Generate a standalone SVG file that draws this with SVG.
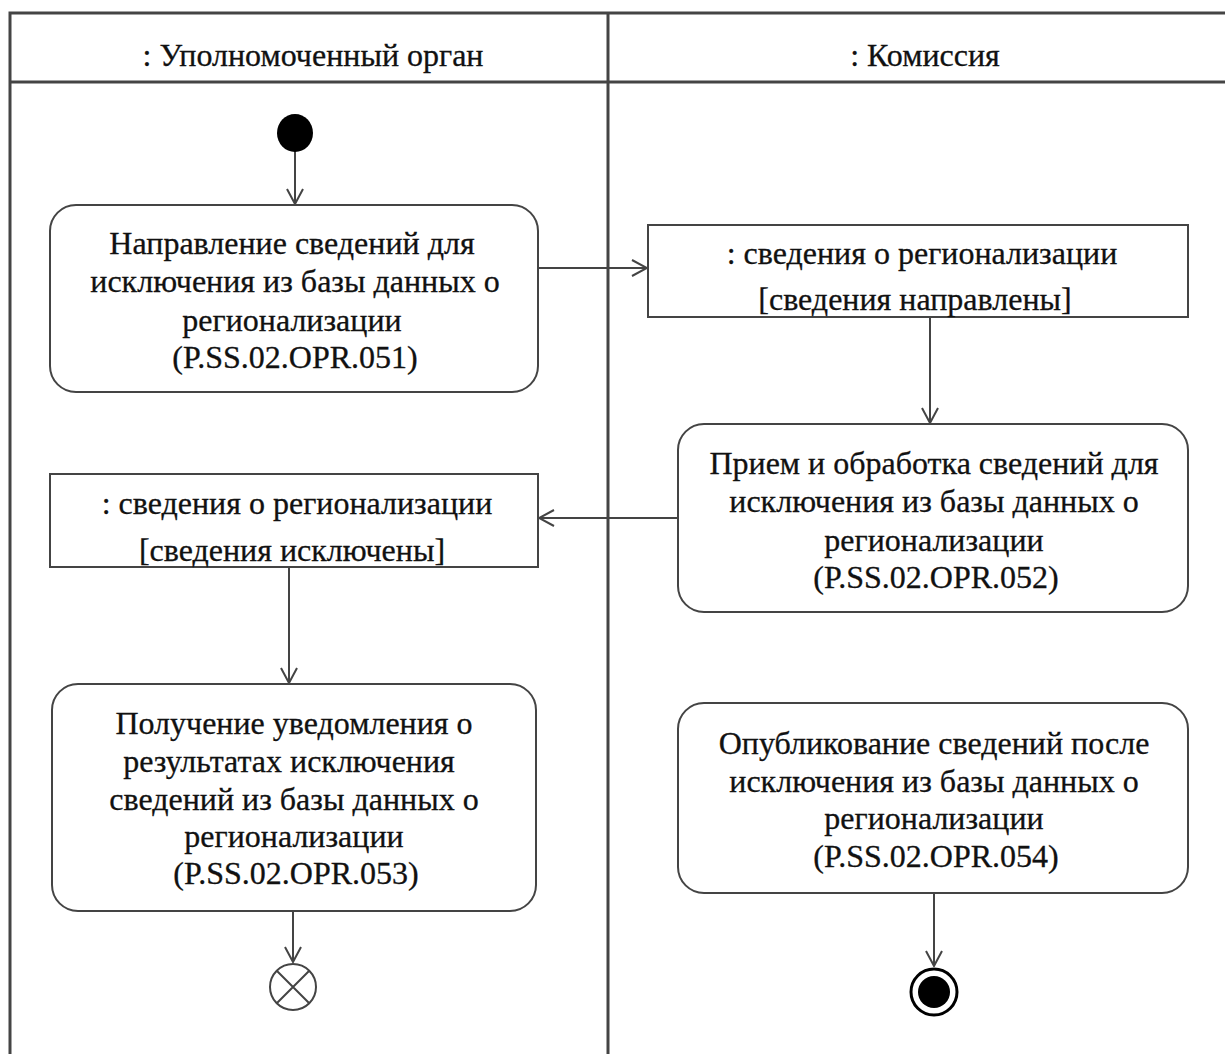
<svg xmlns="http://www.w3.org/2000/svg" width="1225" height="1054" viewBox="0 0 1225 1054">
<style>
text{font-family:"Liberation Serif","Times New Roman",serif;font-size:32px;fill:#111;stroke:#111;stroke-width:0.3;text-anchor:middle;dominant-baseline:central}
.frame{fill:none;stroke:#444;stroke-width:3}
.box{fill:#fff;stroke:#444;stroke-width:2}
.edge{fill:none;stroke:#444;stroke-width:2;marker-end:url(#arr)}
</style>
<defs>
<marker id="arr" viewBox="0 0 20 20" refX="19" refY="10" markerWidth="20" markerHeight="20" markerUnits="userSpaceOnUse" orient="auto">
<path d="M4,2 L19,10 L4,18" fill="none" stroke="#444" stroke-width="2"/>
</marker>
</defs>
<g id="frame">
<path class="frame" d="M10,1054 V13 H1225 M10,82 H1225 M608,13 V1054"/>
<text x="313" y="55">: Уполномоченный орган</text>
<text x="925" y="55">: Комиссия</text>
</g>
<g id="connectors">
<path class="edge" d="M295,151 V204"/>
<path class="edge" d="M538,268 H647"/>
<path class="edge" d="M930,317 V423"/>
<path class="edge" d="M678,518 H539"/>
<path class="edge" d="M289,567 V683"/>
<path class="edge" d="M293,911 V962"/>
<path class="edge" d="M934,893 V966"/>
</g>
<g id="start"><ellipse cx="295" cy="133" rx="18" ry="19" fill="#000"/></g>
<g id="a051">
<rect class="box" x="50" y="205" width="488" height="187" rx="26"/>
<text x="292" y="243">Направление сведений для</text>
<text x="295" y="281">исключения из базы данных о</text>
<text x="292" y="320">регионализации</text>
<text x="295" y="357">(P.SS.02.OPR.051)</text>
</g>
<g id="obj1">
<rect class="box" x="648" y="225" width="540" height="92"/>
<text x="922" y="253">: сведения о регионализации</text>
<text x="915" y="299">[сведения направлены]</text>
</g>
<g id="a052">
<rect class="box" x="678" y="424" width="510" height="188" rx="26"/>
<text x="934" y="463">Прием и обработка сведений для</text>
<text x="934" y="501">исключения из базы данных о</text>
<text x="934" y="540">регионализации</text>
<text x="936" y="577">(P.SS.02.OPR.052)</text>
</g>
<g id="obj2">
<rect class="box" x="50" y="474" width="488" height="93"/>
<text x="297" y="503">: сведения о регионализации</text>
<text x="292" y="550">[сведения исключены]</text>
</g>
<g id="a053">
<rect class="box" x="52" y="684" width="484" height="227" rx="26"/>
<text x="294" y="723">Получение уведомления о</text>
<text x="289" y="761">результатах исключения</text>
<text x="294" y="799">сведений из базы данных о</text>
<text x="294" y="836">регионализации</text>
<text x="296" y="873">(P.SS.02.OPR.053)</text>
</g>
<g id="a054">
<rect class="box" x="678" y="703" width="510" height="190" rx="26"/>
<text x="934" y="743">Опубликование сведений после</text>
<text x="934" y="781">исключения из базы данных о</text>
<text x="934" y="818">регионализации</text>
<text x="936" y="856">(P.SS.02.OPR.054)</text>
</g>
<g id="flowfinal">
<circle cx="293" cy="987" r="23" fill="#fff" stroke="#444" stroke-width="2"/>
<path d="M277,971 L309,1003 M309,971 L277,1003" stroke="#444" stroke-width="2"/>
</g>
<g id="final">
<circle cx="934" cy="992" r="23" fill="#fff" stroke="#000" stroke-width="3"/>
<circle cx="934" cy="992" r="16" fill="#000"/>
</g>
</svg>
